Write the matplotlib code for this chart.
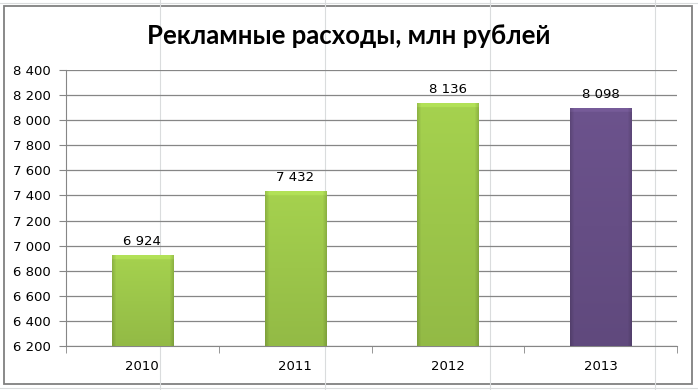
import numpy as np
import matplotlib
matplotlib.use("Agg")
import matplotlib.pyplot as plt
from matplotlib.patches import Rectangle
from matplotlib.colors import to_rgb

title = "Рекламные расходы, млн рублей"
years = ["2010", "2011", "2012", "2013"]
values = [6924, 7432, 8136, 8098]
value_labels = ["6 924", "7 432", "8 136", "8 098"]
yticks = [6200, 6400, 6600, 6800, 7000, 7200, 7400, 7600, 7800, 8000, 8200, 8400]
ytick_labels = ["6 200", "6 400", "6 600", "6 800", "7 000", "7 200", "7 400",
                "7 600", "7 800", "8 000", "8 200", "8 400"]
bar_colors = ["#9CC64A", "#9CC64A", "#9CC64A", "#664E85"]

W, H = 698, 390
fig = plt.figure(figsize=(W / 100, H / 100), dpi=100)
fig.patch.set_facecolor("white")

# spreadsheet cell lines behind the chart
bg = fig.add_axes([0, 0, 1, 1], zorder=-5)
bg.set_xlim(0, W); bg.set_ylim(H, 0); bg.axis("off")
for xv in [160, 325, 490, 655]:
    bg.plot([xv, xv], [0, H], color="#DADCDD", lw=0.8)
for yv in [3, 388]:
    bg.plot([0, W], [yv, yv], color="#DADCDD", lw=0.8)
bg.add_patch(Rectangle((3.5, 6), 688, 378, facecolor="white", edgecolor="#808080", lw=1.3))

ax_h_px = 346 - 70
ax = fig.add_axes([66 / W, 1 - 346 / H, (677 - 66) / W, ax_h_px / H])
ax.set_facecolor("none")
x = np.arange(len(years))
ax.set_xlim(-0.5, len(years) - 0.5)
ax.set_ylim(6200, 8400)
ax.set_yticks(yticks)
ax.set_yticklabels(ytick_labels, fontsize=9.5, family="DejaVu Sans")
ax.yaxis.grid(True, color="#868686", lw=0.9)
ax.set_axisbelow(True)
ax.set_xticks(x)
ax.set_xticklabels(years, fontsize=9.5, family="DejaVu Sans")
ax.set_xticks(np.arange(-0.5, len(years)), minor=True)
ax.tick_params(axis="x", which="major", length=0, pad=10)
ax.tick_params(axis="x", which="minor", length=5, color="#868686", direction="out")
ax.tick_params(axis="y", length=5, color="#868686", direction="out", pad=6)
for s in ["top", "right"]:
    ax.spines[s].set_visible(False)
ax.spines["left"].set_color("#868686")
ax.spines["bottom"].set_color("#868686")

bars = ax.bar(x, [v - 6200 for v in values], bottom=6200, width=0.4,
              color=bar_colors, edgecolor="none", zorder=2)

nx, ny = 62, 300
for b, col in zip(bars, bar_colors):
    base = np.array(to_rgb(col))
    hpx = b.get_height() / 2200 * ax_h_px
    xs = np.linspace(0, 1, nx)
    ys = np.linspace(0, 1, ny) * hpx  # pixels from top
    xpx = xs * 62
    edge = np.minimum(xpx, 62 - xpx)
    hfac = np.where(edge < 4, 0.86 + edge * 0.035, 1.0)
    vfac = 1.06 - 0.12 * (ys / max(hpx, 1))
    img = base[None, None, :] * vfac[:, None, None] * hfac[None, :, None]
    topband = ys < 4
    img[topband] = np.clip(img[topband] * 1.05 + 0.02, 0, 1)
    img = np.clip(img, 0, 1)
    x0 = b.get_x(); x1 = x0 + b.get_width()
    y0 = b.get_y(); y1 = y0 + b.get_height()
    im = ax.imshow(img, extent=[x0, x1, y0, y1], aspect="auto", origin="upper",
                   zorder=3, interpolation="bilinear")
    im.set_clip_path(b)

for xi, v, lab in zip(x, values, value_labels):
    ax.annotate(lab, (xi, v), xytext=(0, 5), textcoords="offset points",
                ha="center", va="bottom", fontsize=9.5, family="DejaVu Sans", zorder=4)

fig.text(0.5, 1 - 36 / H, title, ha="center", va="center", fontsize=18.5,
         fontweight="bold", family="Lato")

fig.savefig("out.png", dpi=100)
